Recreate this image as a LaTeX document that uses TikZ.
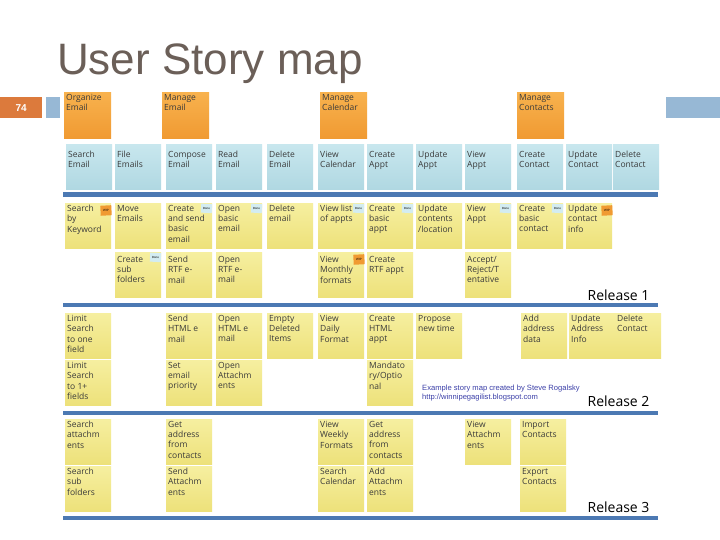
\documentclass[tikz,border=0pt]{standalone}
\usepackage{fontspec}
\setmainfont{Liberation Sans}
\newfontfamily\notefont{Open Sans}
\usetikzlibrary{positioning}

\definecolor{titlegray}{HTML}{6B5F58}
\definecolor{numorange}{HTML}{DC7A3C}
\definecolor{sideblue}{HTML}{97B8D5}
\definecolor{lineblue}{HTML}{4C79B3}
\definecolor{yellowtop}{HTML}{F6EFA0}
\definecolor{yellowbot}{HTML}{EDE17A}
\definecolor{bluetop}{HTML}{C8E7EE}
\definecolor{bluebot}{HTML}{B0D8E2}
\definecolor{orangetop}{HTML}{F8B24E}
\definecolor{orangebot}{HTML}{F09A32}
\definecolor{inkgray}{HTML}{3A3A3A}
\definecolor{creditblue}{HTML}{3B3FA8}

\tikzset{
  sticky/.style={rectangle, anchor=north west, minimum width=46pt, minimum height=45pt, inner sep=0pt},
  activity/.style={sticky, top color=orangetop, bottom color=orangebot},
  task/.style={sticky, top color=bluetop, bottom color=bluebot},
  story/.style={sticky, top color=yellowtop, bottom color=yellowbot},
  notetext/.style={anchor=north west, align=left, inner sep=2pt, text=inkgray,
    font=\notefont\fontsize{8.5}{10.3}\selectfont},
  tagwip/.style={anchor=north east, fill=orangebot, inner sep=0.5pt, minimum width=11pt,
    minimum height=10pt, font=\fontsize{3}{3}\selectfont, yshift=-2pt, rotate=3},
  tagdone/.style={anchor=north east, fill=bluetop!80!white, inner sep=0.5pt, minimum width=11pt,
    minimum height=9pt, font=\fontsize{3}{3}\selectfont, yshift=-1pt, rotate=-3},
  release/.style={anchor=base east, font=\notefont\fontsize{14}{14}\selectfont},
  divider/.style={draw=lineblue, line width=4pt},
}

\begin{document}
\begin{tikzpicture}[x=1pt,y=-1pt]
\useasboundingbox (0,0) rectangle (720,540);
\fill[white] (0,0) rectangle (720,540);
% slide title and bar
\node[anchor=base west, font=\fontsize{44}{44}\selectfont, text=titlegray, inner sep=0pt] (title) at (57,75) {User Story map};
\node[anchor=north west, fill=numorange, minimum width=42pt, minimum height=21pt, inner sep=0pt,
  text=white, font=\bfseries\fontsize{10}{10}\selectfont] (slideno) at (0,97) {74};
\fill[sideblue] (46,97) rectangle (60,118);
\fill[sideblue] (666,97) rectangle (720,118);
% activities
\foreach \x/\t [count=\i] in {64/{Organize\\Email},162/{Manage\\Email},320/{Manage\\Calendar},517/{Manage\\Contacts}} {
  \node[activity, minimum width=47pt, minimum height=46pt] (act-\i) at (\x,92) {};
  \node[notetext] (act-\i-txt) at (act-\i.north west) {\t};
}
% tasks
\foreach \x/\t [count=\i] in {66/{Search\\Email},115/{File\\Emails},166/{Compose\\Email},216/{Read\\Email},
  267/{Delete\\Email},318/{View\\Calendar},367/{Create\\Appt},416/{Update\\Appt},465/{View\\Appt},
  517/{Create\\Contact},566/{Update\\Contact},613/{Delete\\Contact}} {
  \node[task] (task-\i) at (\x,144) {};
  \node[notetext, yshift=-5pt] (task-\i-txt) at (task-\i.north west) {\t};
}
\draw[divider, line width=5pt] (63,195) -- (658,195);
% release 1
\foreach \x/\t [count=\i] in {65/{Search\\by\\Keyword},115/{Move\\Emails},166/{Create\\and send\\basic\\email},
  216/{Open\\basic\\email},267/{Delete\\email},318/{View list\\of appts},367/{Create\\basic\\appt},
  416/{Update\\contents\\/location},465/{View\\Appt},517/{Create\\basic\\contact},566/{Update\\contact\\info}} {
  \node[story] (rone-\i) at (\x,203) {};
  \node[notetext] (rone-\i-txt) at (rone-\i.north west) {\t};
}
\foreach \x/\t [count=\i] in {115/{Create\\sub\\folders},166/{Send\\RTF e-\\mail},216/{Open\\RTF e-\\mail},
  318/{View\\Monthly\\formats},367/{Create\\RTF appt},465/{Accept/\\Reject/T\\entative}} {
  \node[story] (roneb-\i) at (\x,252) {};
  \node[notetext, yshift=-2pt] (roneb-\i-txt) at (roneb-\i.north west) {\t};
}
% status tags
\foreach \n [count=\i] in {rone-1,rone-11,roneb-4} {
  \node[tagwip] (wip-\i) at (\n.north east) {WIP};
}
\foreach \n [count=\i] in {rone-3,rone-4,rone-6,rone-7,rone-9,rone-10,roneb-1} {
  \node[tagdone] (done-\i) at (\n.north east) {Done};
}
\node[release] (rel-1) at (653,300) {Release 1};
\draw[divider] (63,305) -- (658,305);
% release 2
\foreach \x/\t [count=\i] in {65/{Limit\\Search\\to one\\field},166/{Send\\HTML e\\mail},216/{Open\\HTML e\\mail},
  267/{Empty\\Deleted\\Items},318/{View\\Daily\\Format},367/{Create\\HTML\\appt},416/{Propose\\new time},
  521/{Add\\address\\data},569/{Update\\Address\\Info},615/{Delete\\Contact}} {
  \node[story] (rtwo-\i) at (\x,313) {};
  \node[notetext] (rtwo-\i-txt) at (rtwo-\i.north west) {\t};
}
\foreach \x/\t [count=\i] in {65/{Limit\\Search\\to 1+\\fields},166/{Set\\email\\priority},
  216/{Open\\Attachm\\ents},367/{Mandato\\ry/Optio\\nal}} {
  \node[story] (rtwob-\i) at (\x,360) {};
  \node[notetext] (rtwob-\i-txt) at (rtwob-\i.north west) {\t};
}
\node[anchor=base west, inner sep=0pt, text=creditblue, font=\fontsize{7.6}{7.6}\selectfont] (credit-1) at (422,390)
  {Example story map created by Steve Rogalsky};
\node[anchor=base west, inner sep=0pt, text=creditblue, font=\fontsize{7.6}{7.6}\selectfont] (credit-2) at (422,399)
  {http://winnipegagilist.blogspot.com};
\node[release] (rel-2) at (653,406) {Release 2};
\draw[divider] (63,413) -- (658,413);
% release 3
\foreach \x/\t [count=\i] in {65/{Search\\attachm\\ents},166/{Get\\address\\from\\contacts},
  318/{View\\Weekly\\Formats},367/{Get\\address\\from\\contacts},465/{View\\Attachm\\ents},520/{Import\\Contacts}} {
  \node[story] (rthree-\i) at (\x,419) {};
  \node[notetext] (rthree-\i-txt) at (rthree-\i.north west) {\t};
}
\foreach \x/\t [count=\i] in {65/{Search\\sub\\folders},166/{Send\\Attachm\\ents},318/{Search\\Calendar},
  367/{Add\\Attachm\\ents},520/{Export\\Contacts}} {
  \node[story] (rthreeb-\i) at (\x,466) {};
  \node[notetext] (rthreeb-\i-txt) at (rthreeb-\i.north west) {\t};
}
\node[release] (rel-3) at (653,512) {Release 3};
\draw[divider] (63,518) -- (658,518);
\end{tikzpicture}
\end{document}
